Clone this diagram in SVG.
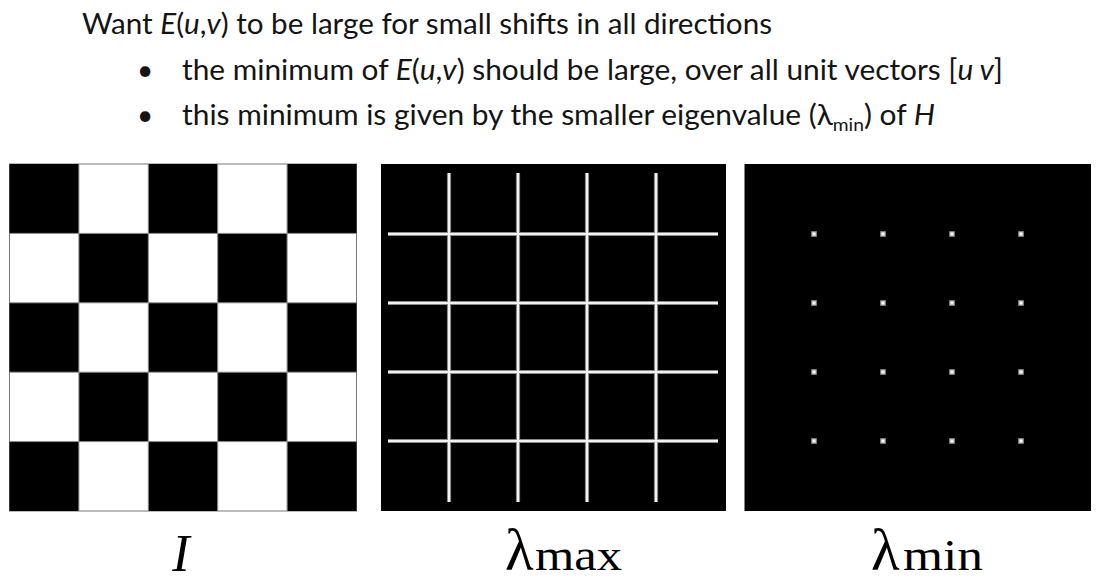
<svg xmlns="http://www.w3.org/2000/svg" width="1098" height="583" viewBox="0 0 1098 583">
<style>
.t{font-family:Lato,"Open Sans","Liberation Sans",sans-serif;font-size:28px;fill:#141414}
.i{font-style:italic}
.sub{font-size:18px}
.lbl{font-family:"Liberation Serif","DejaVu Serif",serif;fill:#000}
.blk{fill:#000}
.gl{stroke:#8a8a8a;stroke-width:4.2;fill:none}
.gc{stroke:#f2f2f2;stroke-width:2;fill:none}
</style>
<defs>
<g id="dot"><rect x="-2.8" y="-2.8" width="5.6" height="5.6" fill="#9a9a9a"/><rect x="-1.6" y="-1.6" width="3.2" height="3.2" fill="#f4f4f4"/></g>
</defs>
<rect width="1098" height="583" fill="#fff"/>
<g id="text">
<text class="t" x="82" y="34" textLength="690" lengthAdjust="spacingAndGlyphs">Want <tspan class="i">E</tspan>(<tspan class="i">u</tspan>,<tspan class="i">v</tspan>) to be large for small shifts in all directions</text>
<text class="t" x="137" y="80">•</text>
<text class="t" x="182" y="80" textLength="821" lengthAdjust="spacingAndGlyphs">the minimum of <tspan class="i">E</tspan>(<tspan class="i">u</tspan>,<tspan class="i">v</tspan>) should be large, over all unit vectors [<tspan class="i">u v</tspan>]</text>
<text class="t" x="137" y="125">•</text>
<text class="t" x="182" y="125" textLength="753" lengthAdjust="spacingAndGlyphs">this minimum is given by the smaller eigenvalue (λ<tspan class="sub" dy="6">min</tspan><tspan dy="-6">) of </tspan><tspan class="i">H</tspan></text>
</g>
<g id="checkerboard">
<rect x="9.5" y="164" width="347" height="347" fill="#fff" stroke="#777" stroke-width="1"/>
<g class="blk">
<rect x="9.5" y="164" width="69.4" height="69.4"/><rect x="148.3" y="164" width="69.4" height="69.4"/><rect x="287.1" y="164" width="69.4" height="69.4"/>
<rect x="78.9" y="233.4" width="69.4" height="69.4"/><rect x="217.7" y="233.4" width="69.4" height="69.4"/>
<rect x="9.5" y="302.8" width="69.4" height="69.4"/><rect x="148.3" y="302.8" width="69.4" height="69.4"/><rect x="287.1" y="302.8" width="69.4" height="69.4"/>
<rect x="78.9" y="372.2" width="69.4" height="69.4"/><rect x="217.7" y="372.2" width="69.4" height="69.4"/>
<rect x="9.5" y="441.6" width="69.4" height="69.4"/><rect x="148.3" y="441.6" width="69.4" height="69.4"/><rect x="287.1" y="441.6" width="69.4" height="69.4"/>
</g>
<g stroke="#8c8c8c" stroke-width="1">
<line x1="78.9" y1="164" x2="78.9" y2="511"/><line x1="148.3" y1="164" x2="148.3" y2="511"/><line x1="217.7" y1="164" x2="217.7" y2="511"/><line x1="287.1" y1="164" x2="287.1" y2="511"/>
<line x1="9.5" y1="233.4" x2="356.5" y2="233.4"/><line x1="9.5" y1="302.8" x2="356.5" y2="302.8"/><line x1="9.5" y1="372.2" x2="356.5" y2="372.2"/><line x1="9.5" y1="441.6" x2="356.5" y2="441.6"/>
</g>
<text class="lbl" x="181" y="571" font-size="52" font-style="italic" text-anchor="middle">I</text>
</g>
<g id="lambda-max">
<rect x="381" y="164" width="345" height="347" fill="#000"/>
<path class="gl" d="M449 173V502M518 173V502M587 173V502M656 173V502M388 234H718M388 303H718M388 372H718M388 441H718"/>
<path class="gc" d="M449 173V502M518 173V502M587 173V502M656 173V502M388 234H718M388 303H718M388 372H718M388 441H718"/>
<text class="lbl" x="505" y="570" font-size="59">λ</text>
<text class="lbl" x="535" y="570" font-size="44" textLength="87" lengthAdjust="spacingAndGlyphs">max</text>
</g>
<g id="lambda-min">
<rect x="744.5" y="164" width="346.5" height="347" fill="#000"/>
<use href="#dot" x="814" y="234"/><use href="#dot" x="883" y="234"/><use href="#dot" x="952" y="234"/><use href="#dot" x="1021" y="234"/>
<use href="#dot" x="814" y="303"/><use href="#dot" x="883" y="303"/><use href="#dot" x="952" y="303"/><use href="#dot" x="1021" y="303"/>
<use href="#dot" x="814" y="372"/><use href="#dot" x="883" y="372"/><use href="#dot" x="952" y="372"/><use href="#dot" x="1021" y="372"/>
<use href="#dot" x="814" y="441"/><use href="#dot" x="883" y="441"/><use href="#dot" x="952" y="441"/><use href="#dot" x="1021" y="441"/>
<text class="lbl" x="871" y="570" font-size="59">λ</text>
<text class="lbl" x="903" y="570" font-size="44" textLength="80" lengthAdjust="spacingAndGlyphs">min</text>
</g>
</svg>
